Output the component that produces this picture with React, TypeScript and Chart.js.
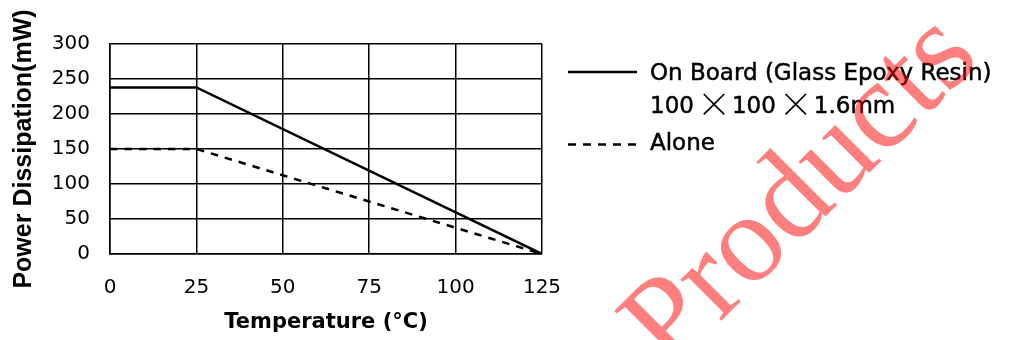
import React, { useEffect, useRef } from "react";
import { Chart, registerables } from "chart.js";

Chart.register(...registerables);

// ---- data ----
const temperatures = [0, 25, 125];
const onBoardPower = [238, 238, 0];
const alonePower = [150, 150, 0];
const xTickValues = [0, 25, 50, 75, 100, 125];
const yTickValues = [0, 50, 100, 150, 200, 250, 300];
const seriesLabels = ["On Board (Glass Epoxy Resin)", "Alone"];
const boardSizeParts = ["100", "100", "1.6mm"];
const xTitle = "Temperature (°C)";
const yTitle = "Power Dissipation(mW)";
const watermarkText = "Products";

function drawText(ctx: CanvasRenderingContext2D, text: string, x: number, y: number) {
  ctx.fillText(text, x, y);
  ctx.lineWidth = 0.5;
  ctx.strokeText(text, x, y);
}

const legendPlugin = {
  id: "customLegend",
  afterDraw(chart: any) {
    const ctx = chart.ctx as CanvasRenderingContext2D;
    const { right, top } = chart.chartArea;
    const x0 = right + 26;
    const x1 = right + 95;
    const tx = right + 108;
    ctx.save();
    ctx.fillStyle = "#000";
    ctx.strokeStyle = "#000";
    ctx.lineWidth = 2.5;
    ctx.beginPath();
    ctx.moveTo(x0, top + 28);
    ctx.lineTo(x1, top + 28);
    ctx.stroke();
    ctx.font = "23px 'DejaVu Sans'";
    ctx.textBaseline = "middle";
    ctx.textAlign = "left";
    drawText(ctx, seriesLabels[0], tx, top + 30);
    // second line: 100 × 100 × 1.6mm
    let x = tx;
    const y2 = top + 60;
    ctx.font = "23px 'DejaVu Sans'";
    ctx.textBaseline = "alphabetic";
    const dm = ctx.measureText("100");
    const digitBase = y2 + (dm.actualBoundingBoxAscent - dm.actualBoundingBoxDescent) / 2;
    const digitMid = digitBase - (dm.actualBoundingBoxAscent - dm.actualBoundingBoxDescent) / 2;
    boardSizeParts.forEach((p, i) => {
      ctx.font = "23px 'DejaVu Sans'";
      ctx.textAlign = "left";
      ctx.textBaseline = "alphabetic";
      drawText(ctx, p, x, digitBase);
      x += ctx.measureText(p).width;
      if (i < boardSizeParts.length - 1) {
        ctx.font = "200 34px 'Noto Sans CJK JP'";
        ctx.textAlign = "center";
        const m = ctx.measureText("×");
        const base = digitMid + (m.actualBoundingBoxAscent - m.actualBoundingBoxDescent) / 2;
        ctx.fillText("×", x + 20, base);
        x += 38;
      }
    });
    // dashed
    ctx.lineWidth = 2.5;
    ctx.setLineDash([8, 7]);
    ctx.beginPath();
    ctx.moveTo(x0, top + 100.5);
    ctx.lineTo(x1, top + 100.5);
    ctx.stroke();
    ctx.setLineDash([]);
    ctx.font = "23px 'DejaVu Sans'";
    ctx.textAlign = "left";
    ctx.textBaseline = "middle";
    drawText(ctx, seriesLabels[1], tx, top + 100);
    ctx.restore();
  },
};

const watermarkPlugin = {
  id: "watermark",
  afterDraw(chart: any) {
    const ctx = chart.ctx as CanvasRenderingContext2D;
    ctx.save();
    ctx.translate(670, 372);
    ctx.rotate((-45 * Math.PI) / 180);
    ctx.font = "126px 'Liberation Serif'";
    ctx.fillStyle = "rgba(255,0,0,0.5)";
    ctx.textBaseline = "alphabetic";
    ctx.textAlign = "left";
    ctx.fillText(watermarkText, 0, 0);
    ctx.restore();
  },
};

export default function App() {
  const ref = useRef<HTMLCanvasElement | null>(null);
  useEffect(() => {
    document.body.style.margin = "0";
    const canvas = ref.current!;
    const chart = new Chart(canvas, {
      type: "line",
      data: {
        datasets: [
          {
            label: seriesLabels[0],
            data: temperatures.map((t, i) => ({ x: t, y: onBoardPower[i] })),
            borderColor: "#000",
            borderWidth: 2.5,
            pointRadius: 0,
            tension: 0,
            fill: false,
          },
          {
            label: seriesLabels[1],
            data: temperatures.map((t, i) => ({ x: t, y: alonePower[i] })),
            borderColor: "#000",
            borderWidth: 2.5,
            borderDash: [7.5, 7],
            pointRadius: 0,
            tension: 0,
            fill: false,
          },
        ],
      },
      options: {
        animation: false,
        responsive: false,
        events: [],
        layout: { padding: { left: 0, top: 44, right: 474, bottom: 0 } },
        plugins: { legend: { display: false }, tooltip: { enabled: false } },
        scales: {
          x: {
            type: "linear",
            min: xTickValues[0],
            max: xTickValues[xTickValues.length - 1],
            afterBuildTicks: (s: any) => {
              s.ticks = xTickValues.map((v) => ({ value: v }));
            },
            afterFit: (s: any) => {
              s.height = 86;
            },
            grid: { color: "#000", lineWidth: 1.5, drawTicks: false },
            border: { display: true, color: "#000", width: 1.5 },
            ticks: {
              color: "#000",
              font: { family: "'DejaVu Sans'", size: 20 },
              padding: 22,
              maxRotation: 0,
            },
            title: {
              display: true,
              text: xTitle,
              color: "#000",
              font: { family: "'DejaVu Sans'", size: 21, weight: "bold" },
              padding: { top: 0, bottom: 5 },
            },
          },
          y: {
            type: "linear",
            min: yTickValues[0],
            max: yTickValues[yTickValues.length - 1],
            afterBuildTicks: (s: any) => {
              s.ticks = yTickValues.map((v) => ({ value: v }));
            },
            afterFit: (s: any) => {
              s.width = 110;
            },
            grid: { color: "#000", lineWidth: 1.5, drawTicks: false },
            border: { display: true, color: "#000", width: 1.5 },
            ticks: {
              color: "#000",
              font: { family: "'DejaVu Sans'", size: 20 },
              padding: 20,
            },
            title: {
              display: true,
              text: yTitle,
              color: "#000",
              font: { family: "'Liberation Sans'", size: 25, weight: "bold" },
              padding: { top: 9, bottom: 0 },
            },
          },
        },
      },
      plugins: [legendPlugin, watermarkPlugin],
    });
    return () => chart.destroy();
  }, []);
  return (
    <div style={{ width: 1016, height: 340 }}>
      <canvas ref={ref} width={1016} height={340} style={{ display: "block" }} />
    </div>
  );
}
